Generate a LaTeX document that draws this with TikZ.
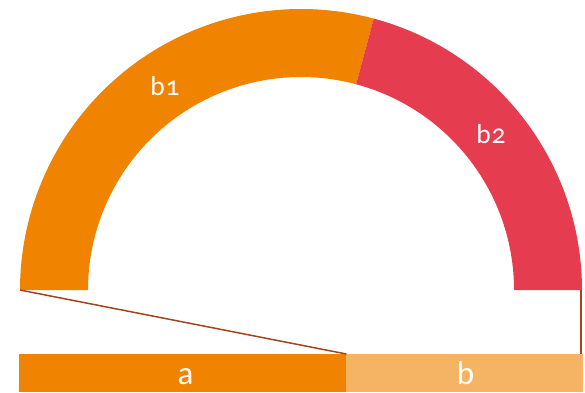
\documentclass[tikz,border=0pt]{standalone}
\usepackage{fontspec}
\setmainfont[Numbers=OldStyle]{Carlito}
\usetikzlibrary{calc}
\definecolor{orng}{RGB}{240,131,0}
\definecolor{rd}{RGB}{230,60,80}
\definecolor{lorng}{RGB}{245,180,100}
\definecolor{brn}{RGB}{160,70,30}
\begin{document}
\begin{tikzpicture}[x=1pt,y=-1pt,
  lbl/.style={text=white,inner sep=0pt,anchor=base,font=\fontsize{27.5}{30}\selectfont},
  blbl/.style={text=white,inner sep=0pt,anchor=base,font=\fontsize{33}{36}\selectfont},
  conn/.style={draw=brn,line width=1.5pt}]
\useasboundingbox (0,0) rectangle (585,392);
\coordinate (c) at (301,290);
% orange arc segment (top of circle is at angle 270 with y flipped)
\fill[orng] (c) ++(180:281) arc[start angle=180,end angle=285,radius=281]
  -- ($(c)+(285:213)$) arc[start angle=285,end angle=180,radius=213] -- cycle;
\fill[rd] (c) ++(285:281) arc[start angle=285,end angle=360,radius=281]
  -- ($(c)+(0:213)$) arc[start angle=360,end angle=285,radius=213] -- cycle;
% bar
\fill[lorng] (19,354) rectangle (583,392);
\node[fill=orng,minimum width=327pt,minimum height=38pt,inner sep=0pt,anchor=north west] (a) at (19,354) {};
\node[minimum width=237pt,minimum height=38pt,inner sep=0pt,anchor=north west] (b) at (a.north east) {};
\node[blbl] at (185.5,384) {a};
\node[blbl] at (465.5,384) {b};
\node[lbl] (b1) at (165,95) {b\kern1pt 1};
\node[lbl] (b2) at (491,143) {b\kern1pt 2};
% connectors
\coordinate (L) at (20,290);
\coordinate (R) at (581,290);
\draw[conn] (L) -- (a.north east);
\draw[conn] (R) -- (R |- b.north);
\end{tikzpicture}
\end{document}
